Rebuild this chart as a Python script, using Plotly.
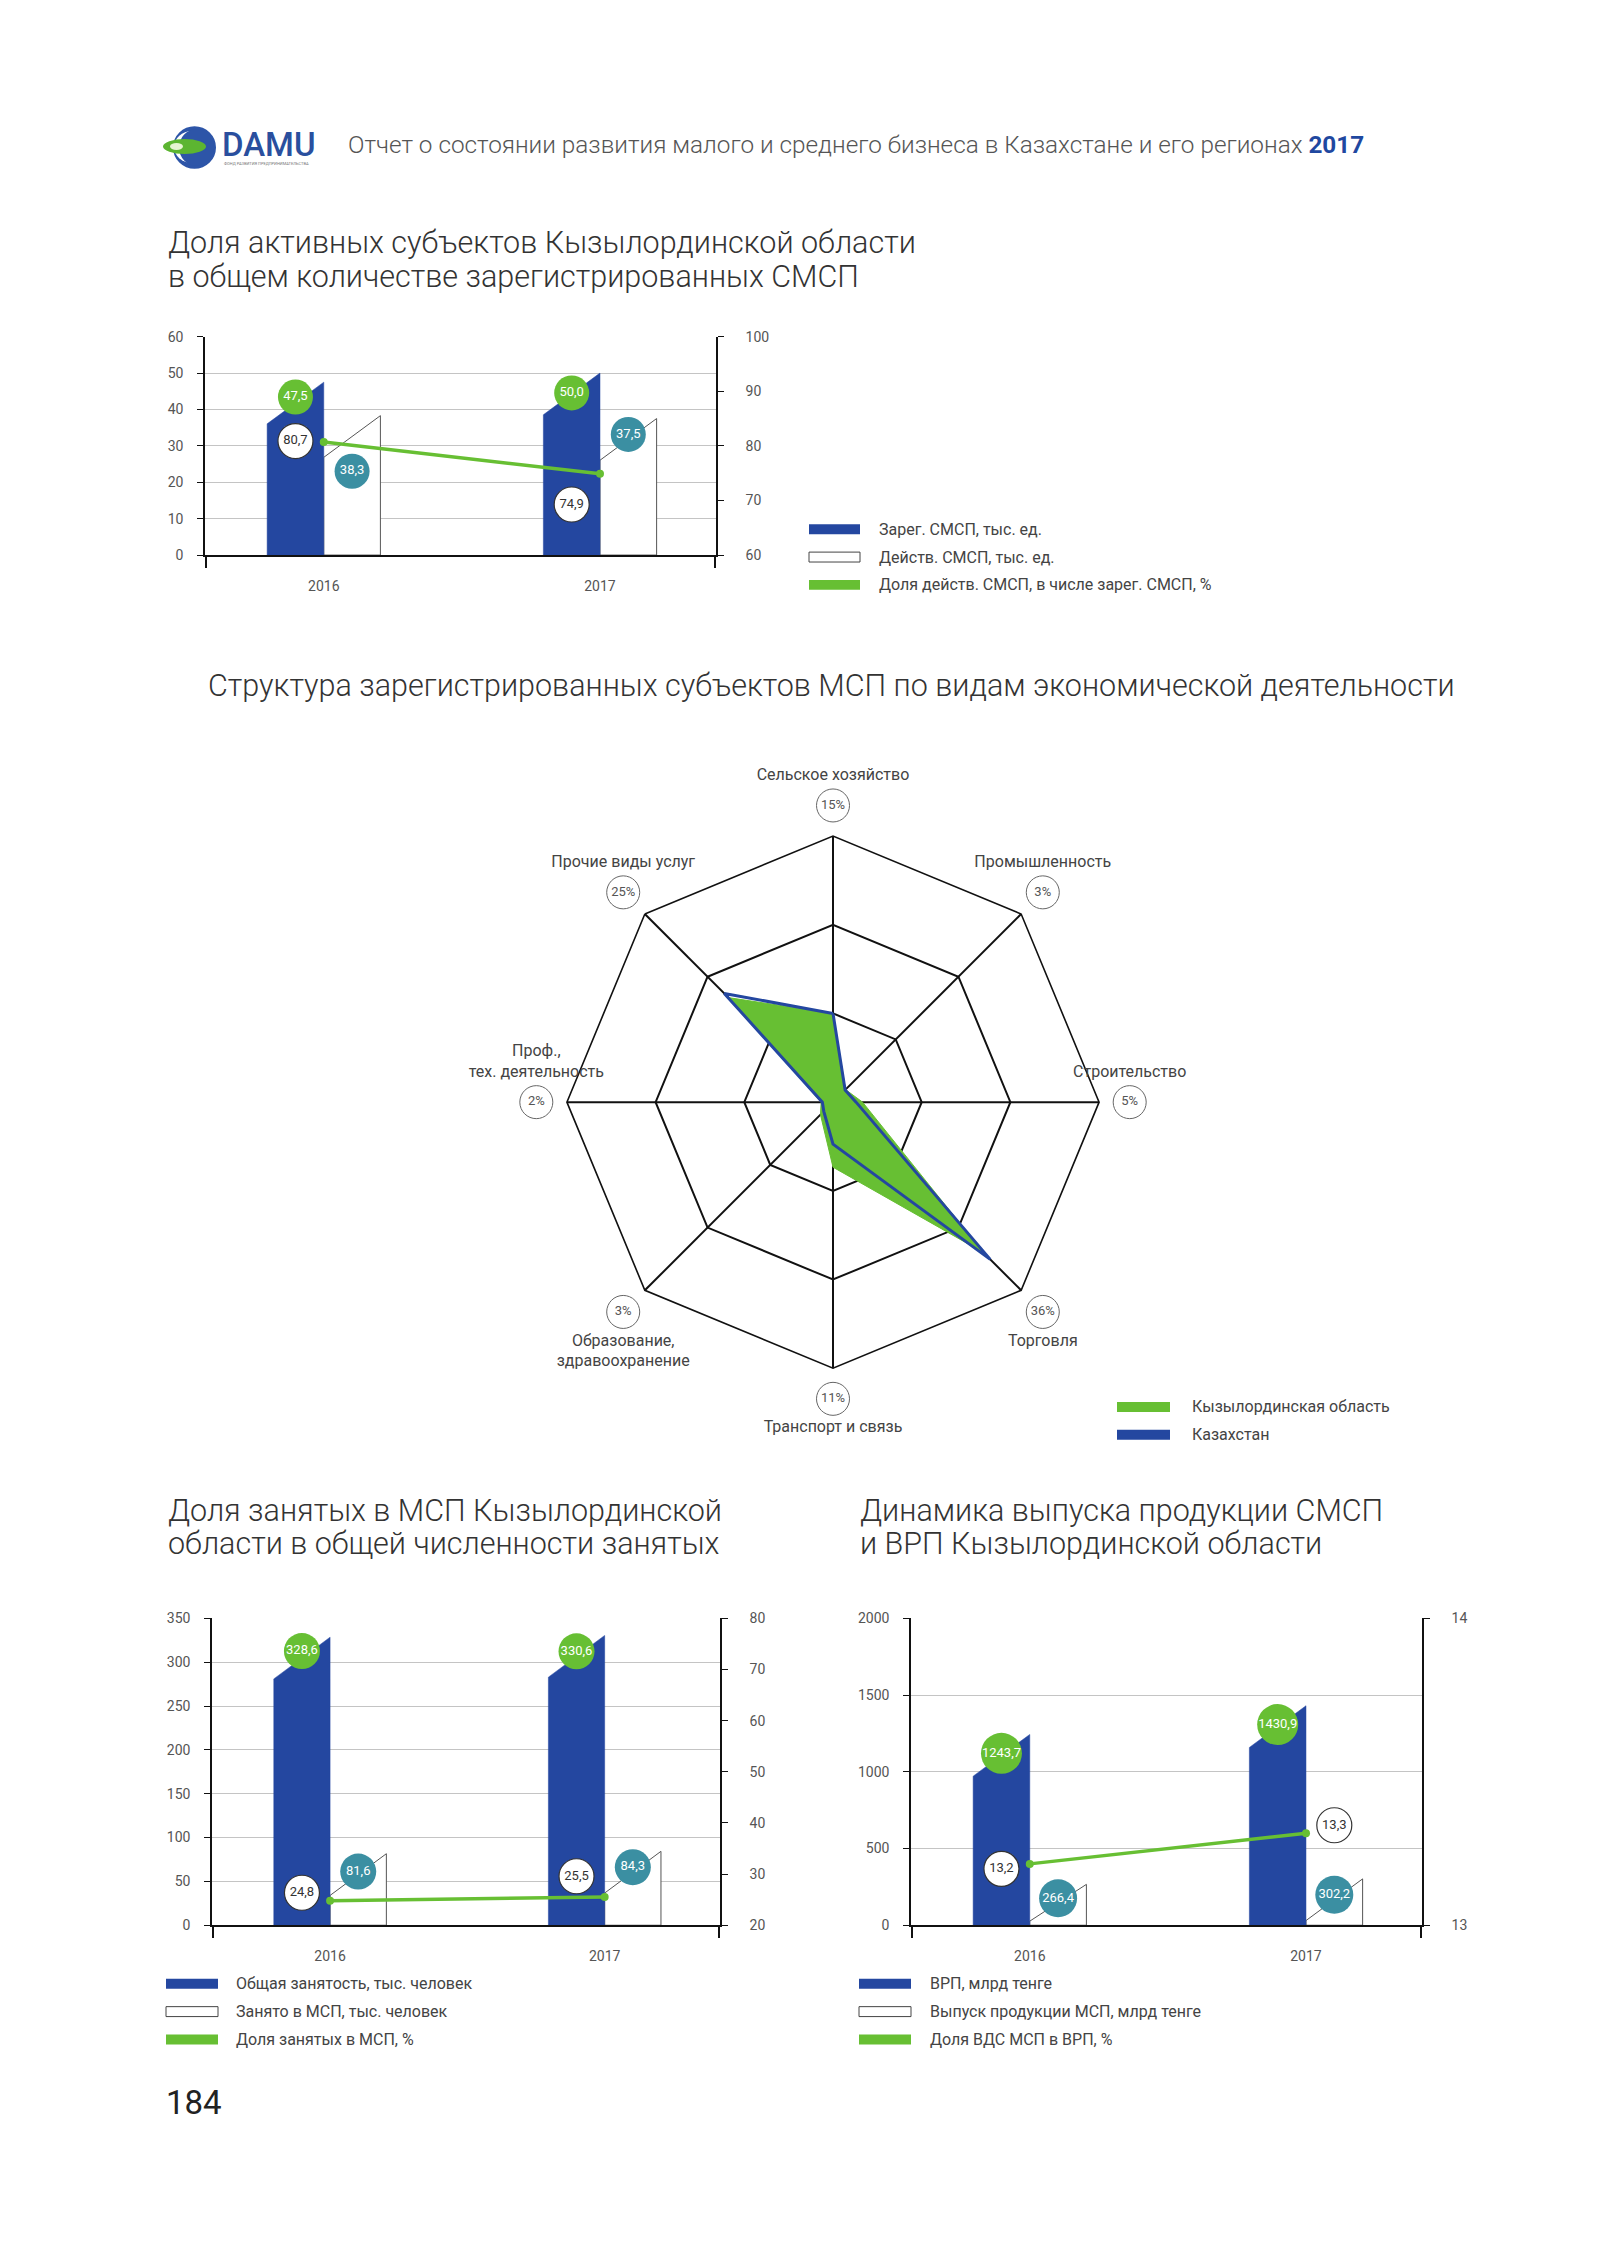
import plotly.graph_objects as go

W, H = 1615, 2245

# ---------------- data ----------------
years = ["2016", "2017"]

c1_registered = [47.5, 50.0]   # Зарег. СМСП, тыс. ед.
c1_active = [38.3, 37.5]       # Действ. СМСП, тыс. ед.
c1_share = [80.7, 74.9]        # Доля действ. СМСП, %

radar_categories = ["Сельское хозяйство", "Промышленность", "Строительство", "Торговля",
                    "Транспорт и связь", "Образование, здравоохранение",
                    "Проф., тех. деятельность", "Прочие виды услуг"]
radar_labels = ["Сельское хозяйство", "Промышленность", "Строительство", "Торговля",
                "Транспорт и связь", "Образование,<br>здравоохранение",
                "Проф.,<br>тех. деятельность", "Прочие виды услуг"]
radar_kyzylorda = [15, 3, 5, 36, 11, 3, 2, 25]
radar_kazakhstan = [15.0, 2.9, 3.9, 37.6, 7.1, 2.2, 1.8, 26.0]

c3_total = [328.6, 330.6]      # Общая занятость, тыс. человек
c3_sme = [81.6, 84.3]          # Занято в МСП, тыс. человек
c3_share = [24.8, 25.5]        # Доля занятых в МСП, %

c4_grp = [1243.7, 1430.9]      # ВРП, млрд тенге
c4_output = [266.4, 302.2]     # Выпуск продукции МСП, млрд тенге
c4_share = [13.2, 13.3]        # Доля ВДС МСП в ВРП, %

# ---------------- styles ----------------
BLUE = "#2447a0"
GREEN = "#67bf33"
TEAL = "#3b8fa2"
TXT = "#444444"
GRID = "#c4c4c4"
FONT = "Roboto"


def px(x):
    return x / W


def py(y):
    return 1 - y / H


def fmt(v):
    return f"{v:.1f}".replace(".", ",")


fig = go.Figure()
annotations = []
shapes = []

XR = [-0.43, 1.42]
BW = 0.205          # bar width in category units
RISE_PX = 42        # slant of bar tops, px


def bar_chart(n, xdom, ydom, yr, ydt, y2r, y2dt, blue, white, line,
              g_off, t_off, w_off, w_side, gsize, tsize):
    xa = "x" if n == 1 else f"x{n}"
    ya = "y" if n == 1 else f"y{2 * n - 1}"
    ya2 = f"y{2 * n}"
    plot_h = ydom[1] - ydom[0]
    u1 = (yr[1] - yr[0]) / plot_h
    u2 = (y2r[1] - y2r[0]) / plot_h
    rise = RISE_PX * u1
    xs = list(range(len(years)))
    for i, v in enumerate(white):
        lt = max(v - rise, 0.1 * v)
        fig.add_trace(go.Scatter(
            x=[i, i, i + BW, i + BW, i], y=[0, lt, v, 0, 0], xaxis=xa, yaxis=ya,
            mode="lines", fill="toself", fillcolor="white",
            line=dict(color="#555555", width=1), showlegend=False, hoverinfo="skip"))
    for i, v in enumerate(blue):
        lt = max(v - rise, 0.1 * v)
        fig.add_trace(go.Scatter(
            x=[i - BW, i - BW, i, i, i - BW], y=[0, lt, v, 0, 0], xaxis=xa, yaxis=ya,
            mode="lines", fill="toself", fillcolor=BLUE,
            line=dict(color=BLUE, width=0.5), showlegend=False, hoverinfo="skip"))
    fig.add_trace(go.Scatter(
        x=xs, y=line, xaxis=xa, yaxis=ya2, mode="lines+markers",
        line=dict(color=GREEN, width=3.5), marker=dict(color=GREEN, size=8),
        showlegend=False, hoverinfo="skip"))
    # value labels
    fig.add_trace(go.Scatter(
        x=[i - BW / 2 for i in xs], y=[v + o * u1 for v, o in zip(blue, g_off)],
        xaxis=xa, yaxis=ya, mode="markers+text", text=[fmt(v) for v in blue],
        marker=dict(size=gsize, color=GREEN), textposition="middle center",
        textfont=dict(family=FONT, size=13, color="white"), showlegend=False,
        hoverinfo="skip", cliponaxis=False))
    fig.add_trace(go.Scatter(
        x=[i + BW / 2 for i in xs], y=[v + o * u1 for v, o in zip(white, t_off)],
        xaxis=xa, yaxis=ya, mode="markers+text", text=[fmt(v) for v in white],
        marker=dict(size=tsize, color=TEAL), textposition="middle center",
        textfont=dict(family=FONT, size=13, color="white"), showlegend=False,
        hoverinfo="skip", cliponaxis=False))
    fig.add_trace(go.Scatter(
        x=[i + s * BW / 2 for i, s in zip(xs, w_side)],
        y=[v + o * u2 for v, o in zip(line, w_off)],
        xaxis=xa, yaxis=ya2, mode="markers+text", text=[fmt(v) for v in line],
        marker=dict(size=35, color="white", line=dict(color="#333333", width=1.2)),
        textposition="middle center",
        textfont=dict(family=FONT, size=13, color="#333333"), showlegend=False,
        hoverinfo="skip", cliponaxis=False))

    dom_x = [px(xdom[0]), px(xdom[1])]
    dom_y = [py(ydom[1]), py(ydom[0])]
    tickfont = dict(family=FONT, size=14, color="#555555")
    xkey = "xaxis" if n == 1 else f"xaxis{n}"
    ykey = "yaxis" if n == 1 else f"yaxis{2 * n - 1}"
    y2key = f"yaxis{2 * n}"
    fig.layout[xkey] = dict(
        domain=dom_x, anchor=ya, range=XR, tickvals=xs, ticktext=years,
        ticks="outside", ticklen=0, ticklabelstandoff=17, tickfont=tickfont,
        showgrid=False, zeroline=False, showline=True, linecolor="#111111", linewidth=1.6,
        minor=dict(tickvals=[XR[0] + 0.002, XR[1] - 0.002], ticks="outside", ticklen=11,
                   tickcolor="#111111", tickwidth=1.6, showgrid=False),
        fixedrange=True)
    fig.layout[ykey] = dict(
        domain=dom_y, anchor=xa, range=list(yr), dtick=ydt, tick0=yr[0],
        showgrid=True, gridcolor=GRID, gridwidth=1.3, zeroline=False,
        showline=True, linecolor="#111111", linewidth=1.6,
        ticks="outside", ticklen=6, tickcolor="#111111", tickwidth=1.4,
        ticklabelstandoff=11, tickfont=tickfont, fixedrange=True)
    fig.layout[y2key] = dict(
        overlaying=ya, anchor=xa, side="right", range=list(y2r), dtick=y2dt, tick0=y2r[0],
        showgrid=False, zeroline=False, showline=True, linecolor="#111111", linewidth=1.6,
        ticks="outside", ticklen=6, tickcolor="#111111", tickwidth=1.4,
        ticklabelstandoff=19, tickfont=tickfont, fixedrange=True)


# label offsets in px (positive = up)
bar_chart(1, (205, 716), (331, 551), (0, 60), 10, (60, 100), 10,
          c1_registered, c1_active, c1_share,
          g_off=[-15, -20], t_off=[-56, -16], w_off=[1, -31], w_side=[-1, -1],
          gsize=35, tsize=35)
bar_chart(2, (212, 720), (1622, 1931), (0, 350), 50, (20, 80), 10,
          c3_total, c3_sme, c3_share,
          g_off=[-14, -16], t_off=[-18, -16], w_off=[8, 21], w_side=[-1, -1],
          gsize=36, tsize=36)
bar_chart(3, (911, 1422), (1622, 1931), (0, 2000), 500, (13, 14), 1,
          c4_grp, c4_output, c4_share,
          g_off=[-19, -19], t_off=[-14, -16], w_off=[-5, 8], w_side=[-1, 1],
          gsize=41, tsize=38)

# ---------------- radar ----------------
RMAX = 45
LBL_SCALE = 1.3   # radial range of the label layer relative to RMAX
fig.add_trace(go.Scatterpolar(
    r=radar_kyzylorda + radar_kyzylorda[:1], theta=radar_categories + radar_categories[:1],
    mode="lines", fill="toself", fillcolor=GREEN, line=dict(color=GREEN, width=1),
    showlegend=False, hoverinfo="skip", subplot="polar"))
fig.add_trace(go.Scatterpolar(
    r=radar_kazakhstan + radar_kazakhstan[:1], theta=radar_categories + radar_categories[:1],
    mode="lines", line=dict(color=BLUE, width=3), showlegend=False, hoverinfo="skip",
    subplot="polar"))
tpos = ["top center", "top center", "top center", "bottom center", "bottom center",
        "bottom center", "top center", "top center"]
fig.add_trace(go.Scatterpolar(
    r=[RMAX * 1.115] * len(radar_categories), theta=radar_categories,
    mode="markers+text", text=radar_labels, textposition=tpos,
    marker=dict(size=33, color="white", line=dict(color="#666666", width=1)),
    textfont=dict(family=FONT, size=16, color=TXT), cliponaxis=False,
    showlegend=False, hoverinfo="skip", subplot="polar2"))
fig.add_trace(go.Scatterpolar(
    r=[RMAX * 1.115] * len(radar_categories), theta=radar_categories,
    mode="text", text=[f"{v}%" for v in radar_kyzylorda], textposition="middle center",
    textfont=dict(family=FONT, size=13, color="#555555"), cliponaxis=False,
    showlegend=False, hoverinfo="skip", subplot="polar2"))

POLAR_DOM = dict(x=[px(565), px(1101)], y=[py(1370), py(834)])
fig.update_layout(
    polar=dict(
        domain=POLAR_DOM, bgcolor="white", gridshape="linear",
        radialaxis=dict(range=[0, RMAX], tickvals=[RMAX / 3, RMAX * 2 / 3, RMAX],
                        showticklabels=False, ticks="", showline=False,
                        gridcolor="#111111", gridwidth=1.6),
        angularaxis=dict(rotation=90, direction="clockwise", showticklabels=False, ticks="",
                         showline=True, linecolor="#111111", linewidth=1.6,
                         gridcolor="#111111", gridwidth=1.6,
                         categoryorder="array", categoryarray=radar_categories)),
    polar2=dict(
        domain=dict(x=[px(565 - 268 * (LBL_SCALE - 1)), px(1101 + 268 * (LBL_SCALE - 1))],
                    y=[py(1370 + 268 * (LBL_SCALE - 1)), py(834 - 268 * (LBL_SCALE - 1))]),
        bgcolor="rgba(0,0,0,0)", gridshape="linear",
        radialaxis=dict(range=[0, RMAX * LBL_SCALE], visible=False),
        angularaxis=dict(rotation=90, direction="clockwise", visible=False,
                         categoryorder="array", categoryarray=radar_categories)))


# ---------------- texts ----------------
def text(x, y, s, size, color=TXT, anchor="left", weight=400, family=FONT):
    annotations.append(dict(x=px(x), y=py(y), xref="paper", yref="paper", text=s,
                            showarrow=False, xanchor=anchor, yanchor="middle",
                            font=dict(family=family, size=size, color=color, weight=weight)))


def legend(x, y, items, tx):
    for (kind, label), yy in zip(items, y):
        if kind == "blue":
            shapes.append(dict(type="rect", xref="paper", yref="paper", x0=px(x[0]), x1=px(x[1]),
                               y0=py(yy + 5), y1=py(yy - 5), fillcolor=BLUE, line=dict(width=0)))
        elif kind == "white":
            shapes.append(dict(type="rect", xref="paper", yref="paper", x0=px(x[0]), x1=px(x[1]),
                               y0=py(yy + 5), y1=py(yy - 5), fillcolor="white",
                               line=dict(width=1, color="#444444")))
        else:
            shapes.append(dict(type="rect", xref="paper", yref="paper", x0=px(x[0]), x1=px(x[1]),
                               y0=py(yy + 5), y1=py(yy - 5), fillcolor=GREEN, line=dict(width=0)))
        text(tx, yy, label, 16)


# header
text(346, 137, "Отчет о состоянии развития малого и среднего бизнеса в Казахстане и его регионах "
     "<b style='color:#1f48a0'>2017</b>", 24.3, color="#555555", weight=300)
text(220, 137, "DAMU", 33, color="#2a4f9e", weight=500)
text(222, 157, "ФОНД РАЗВИТИЯ ПРЕДПРИНИМАТЕЛЬСТВА", 4, color="#777777")
shapes.append(dict(type="circle", xref="paper", yref="paper", x0=px(173), x1=px(216),
                   y0=py(162), y1=py(119), fillcolor="#2d55a8", line=dict(width=0)))
shapes.append(dict(type="circle", xref="paper", yref="paper", x0=px(174), x1=px(210),
                   y0=py(156), y1=py(124), fillcolor="white", line=dict(width=0)))
shapes.append(dict(type="circle", xref="paper", yref="paper", x0=px(179), x1=px(214),
                   y0=py(159), y1=py(122), fillcolor="#2d55a8", line=dict(width=0)))
shapes.append(dict(type="circle", xref="paper", yref="paper", x0=px(163), x1=px(206),
                   y0=py(147), y1=py(132), fillcolor="#5cb531", line=dict(width=0)))
shapes.append(dict(type="circle", xref="paper", yref="paper", x0=px(170), x1=px(183),
                   y0=py(143), y1=py(136), fillcolor="#e6f4d2", line=dict(width=0)))

# chart titles
TS = 30.5
TC = "#333333"
text(166, 236, "Доля активных субъектов Кызылординской области", TS, color=TC, weight=300)
text(166, 270, "в общем количестве зарегистрированных СМСП", TS, color=TC, weight=300)
text(831, 682, "Структура зарегистрированных субъектов МСП по видам экономической деятельности",
     TS, color=TC, anchor="center", weight=300)
text(166, 1513, "Доля занятых в МСП Кызылординской", TS, color=TC, weight=300)
text(166, 1547, "области в общей численности занятых", TS, color=TC, weight=300)
text(858, 1513, "Динамика выпуска продукции СМСП", TS, color=TC, weight=300)
text(858, 1547, "и ВРП Кызылординской области", TS, color=TC, weight=300)

# legends
legend((809, 860), [525, 553, 581],
       [("blue", "Зарег. СМСП, тыс. ед."), ("white", "Действ. СМСП, тыс. ед."),
        ("green", "Доля действ. СМСП, в числе зарег. СМСП, %")], 877)
legend((1117, 1170), [1409, 1437],
       [("green", "Кызылординская область"), ("blue", "Казахстан")], 1190)
legend((166, 218), [1990, 2018, 2046],
       [("blue", "Общая занятость, тыс. человек"), ("white", "Занято в МСП, тыс. человек"),
        ("green", "Доля занятых в МСП, %")], 234)
legend((859, 911), [1990, 2018, 2046],
       [("blue", "ВРП, млрд тенге"), ("white", "Выпуск продукции МСП, млрд тенге"),
        ("green", "Доля ВДС МСП в ВРП, %")], 928)

# page number
text(164, 2110, "184", 33, color="#222222")

fig.update_layout(
    width=W, height=H, autosize=False,
    margin=dict(l=0, r=0, t=0, b=0),
    paper_bgcolor="white", plot_bgcolor="white",
    font=dict(family=FONT, color=TXT),
    showlegend=False,
    annotations=annotations, shapes=shapes)

fig.write_html("out.html", config={"displayModeBar": False},
               post_script="document.body.style.margin='0';")
